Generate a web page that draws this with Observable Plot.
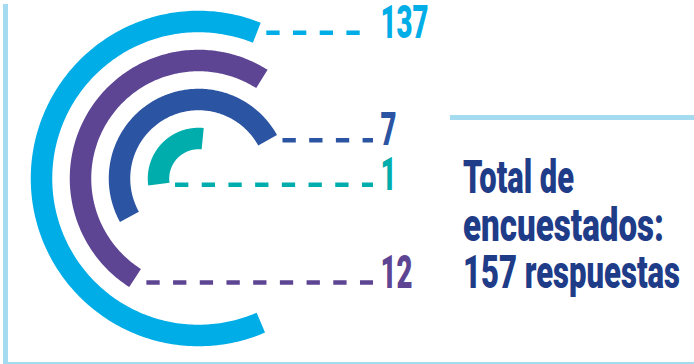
<!DOCTYPE html>
<html>
<head>
<meta charset="utf-8">
<script src="https://cdn.jsdelivr.net/npm/d3@7"></script>
<script src="https://cdn.jsdelivr.net/npm/@observablehq/plot@0.6"></script>
<style>
html, body { margin: 0; padding: 0; background: #fff; }
#wrap { position: relative; width: 694px; height: 364px; overflow: hidden; }
#frame { position: absolute; left: 3px; top: 4px; right: 0; bottom: 0px;
  border-left: 5px solid #a5dbf1; border-bottom: 2px solid #a5dbf1; }
#divider { position: absolute; left: 450px; top: 115px; width: 244px; height: 5px; background: #a5dbf1; }
#chart { position: absolute; left: 0; top: 0; }
</style>
</head>
<body>
<div id="wrap">
  <div id="frame"></div>
  <div id="divider"></div>
  <div id="chart"></div>
</div>
<script>
// ---- data ----
const values = [137, 12, 7, 1];                 // outer ring -> inner ring
const arcFromDeg = [156.6, 212.5, 241, 262];    // arc extent, clockwise from north
const arcToDeg = [381.8, 392.5, 421, 366];
const labelEnd = ["to", "from", "to", "from"];  // which end of the arc carries the leader
const summaryLines = ["Total de", "encuestados:", `${d3.sum(values)} respuestas`];

// ---- styles / layout ----
const colors = ["#00ade6", "#5d4594", "#2b54a2", "#00adad"];
const W = 694, H = 364, cx = 198, cy = 178, ringWidth = 21.5, labelX = 380;
const digitWidth = 16;
const summaryX = 463, summaryTop = 193, summaryLineHeight = 47.5;
const summaryWidths = [111, 201, 217];
const summaryFont = 32, summaryStretchY = 46 / 32;
const fontFamily = 'Roboto, "Liberation Sans Narrow", "DejaVu Sans Condensed", sans-serif';

const radius = d3.scalePoint().domain(d3.range(values.length)).range([157, 40]);
const rad = (d) => d * Math.PI / 180;

const arcPts = values.flatMap((v, i) => {
  const a0 = arcFromDeg[i], a1 = arcToDeg[i];
  const n = Math.ceil(a1 - a0);
  return d3.range(n + 1).map((k) => {
    const a = rad(a0 + (a1 - a0) * k / n);
    return {key: String(v), x: cx + radius(i) * Math.sin(a), y: cy - radius(i) * Math.cos(a)};
  });
});

const leaders = values.map((v, i) => {
  const a = rad(labelEnd[i] === "to" ? arcToDeg[i] : arcFromDeg[i]);
  const r = radius(i);
  const rl = labelEnd[i] === "to" ? r : r + ringWidth / 4;
  const xs = [r - ringWidth / 2, r + ringWidth / 2].map((rr) => cx + rr * Math.sin(a));
  return {key: String(v), label: String(v), y: cy - rl * Math.cos(a),
          x1: d3.max(xs) + 6, x2: labelX - 7, lx: labelX};
});

const plot = Plot.plot({
  width: W, height: H, margin: 0,
  style: {fontFamily, background: "transparent"},
  x: {domain: [0, W], range: [0, W], axis: null},
  y: {domain: [0, H], range: [0, H], axis: null},
  color: {domain: values.map(String), range: colors},
  marks: [
    Plot.line(arcPts, {x: "x", y: "y", z: "key", stroke: "key", strokeWidth: ringWidth,
      strokeLinecap: "butt", strokeLinejoin: "round", curve: "linear"}),
    Plot.ruleY(leaders, {y: "y", x1: "x1", x2: "x2", stroke: "key", strokeWidth: 4.5,
      strokeDasharray: "13.3 13.4"}),
    Plot.text(leaders, {x: "lx", y: "y", dy: 5, text: "label", fill: "key", fontSize: 47,
      fontWeight: 900, fontFamily, textAnchor: "start", lineAnchor: "bottom"})
  ]
});
document.getElementById("chart").append(plot);
d3.select(plot).selectAll("text").each(function () {
  const t = this.textContent;
  this.setAttribute("textLength", t.length * digitWidth);
  this.setAttribute("lengthAdjust", "spacingAndGlyphs");
});

// summary note at the right (plain SVG text, squeezed to the reference widths)
d3.select(plot).append("g")
  .attr("fill", "#1f3c88")
  .attr("text-anchor", "start")
  .attr("font-family", fontFamily)
  .attr("font-size", summaryFont)
  .attr("font-weight", 900)
  .selectAll("text")
  .data(summaryLines)
  .join("text")
  .attr("transform", (d, i) =>
    `translate(${summaryX},${summaryTop + i * summaryLineHeight}) scale(1,${summaryStretchY})`)
  .attr("x", 0)
  .attr("y", 0)
  .attr("textLength", (d, i) => summaryWidths[i])
  .attr("lengthAdjust", "spacingAndGlyphs")
  .text((d) => d);
</script>
</body>
</html>
